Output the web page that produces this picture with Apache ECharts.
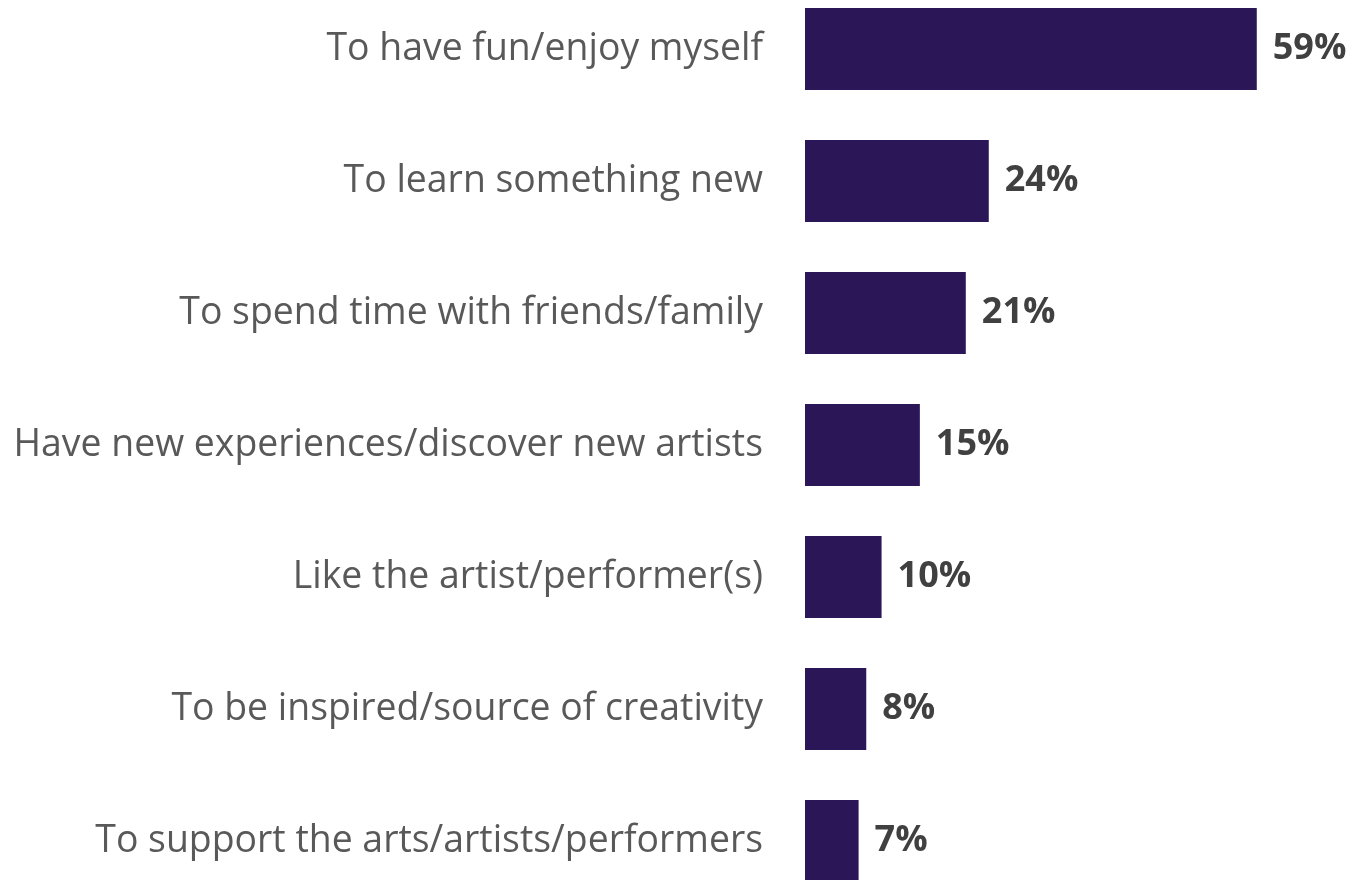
<!DOCTYPE html>
<html><head><meta charset="utf-8">
<script src="https://cdn.jsdelivr.net/npm/echarts@6/dist/echarts.min.js"></script>
<style>html,body{margin:0;padding:0;background:#fff;overflow:hidden}#c{width:1354px;height:924px;margin-top:-17px}</style>
</head><body><div id="c"></div>
<script>
var categories = [
  "To have fun/enjoy myself",
  "To learn something new",
  "To spend time with friends/family",
  "Have new experiences/discover new artists",
  "Like the artist/performer(s)",
  "To be inspired/source of creativity",
  "To support the arts/artists/performers"
];
var values = [59, 24, 21, 15, 10, 8, 7];

var chart = echarts.init(document.getElementById('c'), null, {renderer: 'canvas'});
chart.setOption({
  animation: false,
  grid: {left: 805, width: 536, top: 0, height: 924, containLabel: false},
  xAxis: {type: 'value', min: 0, max: 70, show: false},
  yAxis: {
    type: 'category', data: categories, inverse: true,
    axisLine: {show: false}, axisTick: {show: false}, splitLine: {show: false},
    axisLabel: {margin: 42, color: '#595959', fontFamily: 'Open Sans', fontSize: 37.4, padding: [5, 0, 0, 0]}
  },
  series: [{
    type: 'bar', data: values, barWidth: 82,
    itemStyle: {color: '#2B1658'},
    label: {show: true, position: 'right', distance: 16, formatter: '{c}%', padding: [5, 0, 0, 0],
      color: '#404040', fontWeight: 'bold', fontFamily: 'Open Sans', fontSize: 36}
  }]
});
</script></body></html>
